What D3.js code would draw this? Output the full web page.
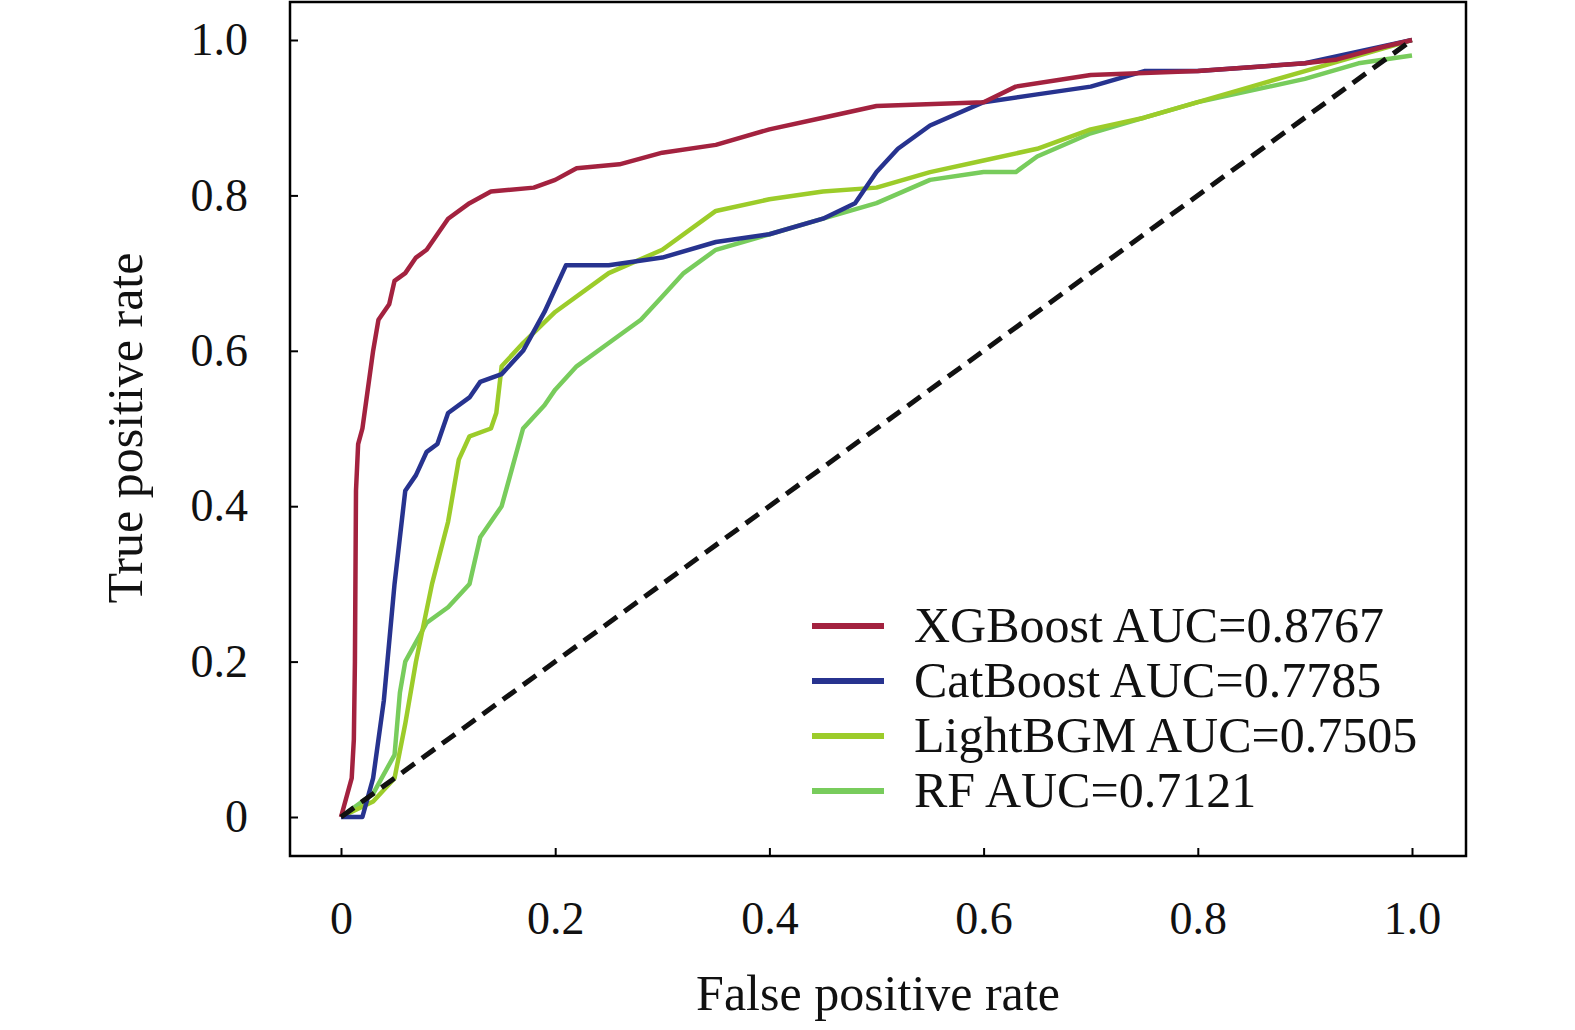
<!DOCTYPE html><html><head><meta charset="utf-8">
<script src="https://cdn.jsdelivr.net/npm/d3@7/dist/d3.min.js"></script>
<style>body{margin:0;background:#fff}text{font-family:"Liberation Serif","Times New Roman",serif}</style>
</head><body><svg id="c" width="1575" height="1030"></svg><script>
const xTicks=[0,0.2,0.4,0.6,0.8,1.0], xTickLabels=["0","0.2","0.4","0.6","0.8","1.0"];
const yTicks=[0,0.2,0.4,0.6,0.8,1.0], yTickLabels=["0","0.2","0.4","0.6","0.8","1.0"];
const seriesNames=["XGBoost AUC=0.8767","CatBoost AUC=0.7785","LightBGM AUC=0.7505","RF AUC=0.7121"];
const seriesColors=["#a3223f","#27338f","#9ccc2a","#78cc5c"];
const xgb=[[0,0],[0.01,0.05],[0.012,0.1],[0.013,0.2],[0.014,0.42],[0.016,0.48],[0.02,0.5],[0.025,0.55],[0.03,0.6],[0.035,0.64],[0.045,0.66],[0.05,0.69],[0.06,0.7],[0.07,0.72],[0.08,0.73],[0.09,0.75],[0.1,0.77],[0.12,0.79],[0.14,0.805],[0.18,0.81],[0.2,0.82],[0.22,0.835],[0.26,0.84],[0.3,0.855],[0.35,0.865],[0.4,0.885],[0.45,0.9],[0.5,0.915],[0.6,0.92],[0.63,0.94],[0.7,0.955],[0.8,0.96],[0.9,0.97],[0.93,0.975],[0.97,0.99],[1,1]];
const cat=[[0,0],[0.02,0],[0.03,0.05],[0.04,0.15],[0.05,0.3],[0.06,0.42],[0.07,0.44],[0.08,0.47],[0.09,0.48],[0.1,0.52],[0.12,0.54],[0.13,0.56],[0.15,0.57],[0.17,0.6],[0.19,0.65],[0.21,0.71],[0.25,0.71],[0.3,0.72],[0.35,0.74],[0.4,0.75],[0.45,0.77],[0.48,0.79],[0.5,0.83],[0.52,0.86],[0.55,0.89],[0.6,0.92],[0.65,0.93],[0.7,0.94],[0.75,0.96],[0.8,0.96],[0.9,0.97],[1,1]];
const lgbm=[[0,0],[0.03,0.02],[0.05,0.05],[0.06,0.12],[0.07,0.2],[0.085,0.3],[0.1,0.38],[0.11,0.46],[0.12,0.49],[0.14,0.5],[0.145,0.52],[0.15,0.58],[0.17,0.61],[0.2,0.65],[0.25,0.7],[0.3,0.73],[0.35,0.78],[0.4,0.795],[0.45,0.805],[0.5,0.81],[0.55,0.83],[0.6,0.845],[0.65,0.86],[0.7,0.885],[0.75,0.9],[0.8,0.92],[0.85,0.94],[0.9,0.96],[0.95,0.98],[1,1]];
const rf=[[0,0],[0.03,0.03],[0.05,0.08],[0.055,0.16],[0.06,0.2],[0.08,0.25],[0.1,0.27],[0.12,0.3],[0.13,0.36],[0.15,0.4],[0.16,0.45],[0.17,0.5],[0.19,0.53],[0.2,0.55],[0.22,0.58],[0.25,0.61],[0.28,0.64],[0.3,0.67],[0.32,0.7],[0.35,0.73],[0.4,0.75],[0.45,0.77],[0.5,0.79],[0.55,0.82],[0.6,0.83],[0.63,0.83],[0.65,0.85],[0.7,0.88],[0.75,0.9],[0.8,0.92],[0.9,0.95],[0.95,0.97],[1,0.98]];
const diag=[[0,0],[1,1]];
const allSeries=[xgb,cat,lgbm,rf];

const svg=d3.select("#c");
const x=d3.scaleLinear().domain([0,1]).range([341,1412]);
const y=d3.scaleLinear().domain([0,1]).range([817,40]);
const L=290,R=1466,T=2,B=856;
svg.append("rect").attr("x",L).attr("y",T).attr("width",R-L).attr("height",B-T).attr("fill","none").attr("stroke","#000").attr("stroke-width",2.5);
const xa=svg.append("g").attr("transform",`translate(0,${B})`).call(d3.axisTop(x).tickValues(xTicks).tickSize(8).tickFormat((d,i)=>xTickLabels[i]));
xa.select(".domain").remove();
xa.selectAll("text").attr("y",78).attr("font-size",46).attr("fill","#111");
const ya=svg.append("g").attr("transform",`translate(${L},0)`).call(d3.axisRight(y).tickValues(yTicks).tickSize(8).tickFormat((d,i)=>yTickLabels[i]));
ya.select(".domain").remove();
ya.selectAll("text").attr("x",-42).attr("text-anchor","end").attr("font-size",46).attr("fill","#111");
svg.selectAll(".tick line").attr("stroke","#000").attr("stroke-width",2);
const line=d3.line().x(d=>x(d[0])).y(d=>y(d[1]));
[3,2,1,0].forEach(i=>svg.append("path").attr("d",line(allSeries[i])).attr("fill","none").attr("stroke",seriesColors[i]).attr("stroke-width",4.5).attr("stroke-linejoin","round"));
svg.append("path").attr("d",line(diag)).attr("fill","none").attr("stroke","#111").attr("stroke-width",5).attr("stroke-dasharray","16,9");
seriesNames.forEach((n,i)=>{const yy=626+i*55;
svg.append("line").attr("x1",812).attr("x2",884).attr("y1",yy).attr("y2",yy).attr("stroke",seriesColors[i]).attr("stroke-width",6);
svg.append("text").attr("x",914).attr("y",yy+16).attr("font-size",50).attr("fill","#111").text(n);});
svg.append("text").attr("x",878).attr("y",1010).attr("text-anchor","middle").attr("font-size",50).attr("fill","#111").text("False positive rate");
svg.append("text").attr("transform","translate(142,428) rotate(-90)").attr("text-anchor","middle").attr("font-size",50).attr("fill","#111").text("True positive rate");
</script></body></html>
